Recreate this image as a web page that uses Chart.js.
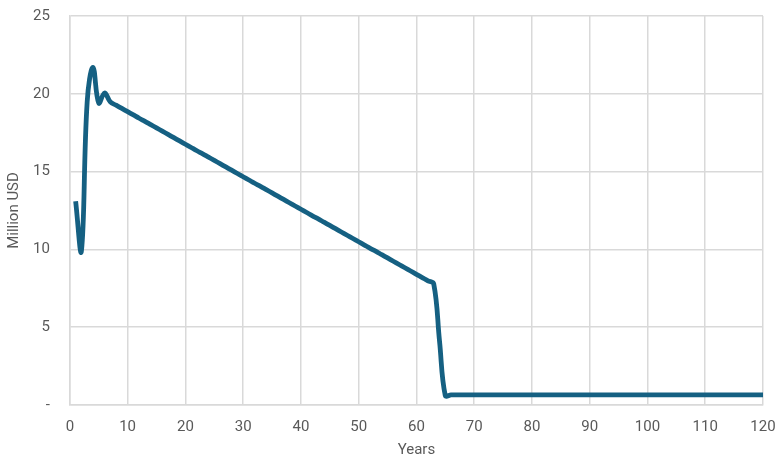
<!DOCTYPE html>
<html>
<head>
<meta charset="utf-8">
<script src="https://cdn.jsdelivr.net/npm/chart.js@4"></script>
<style>
  html, body { margin: 0; padding: 0; background: #fff; }
  #wrap { width: 782px; height: 466px; position: relative; }
</style>
</head>
<body>
<div id="wrap"><canvas id="chart"></canvas></div>
<script>
// years on the x axis
const years = [
  1, 2, 3, 4, 5, 6, 7, 8, 9, 10,
  11, 12, 13, 14, 15, 16, 17, 18, 19, 20,
  21, 22, 23, 24, 25, 26, 27, 28, 29, 30,
  31, 32, 33, 34, 35, 36, 37, 38, 39, 40,
  41, 42, 43, 44, 45, 46, 47, 48, 49, 50,
  51, 52, 53, 54, 55, 56, 57, 58, 59, 60,
  61, 62, 63, 64, 65, 66, 67, 68, 69, 70,
  71, 72, 73, 74, 75, 76, 77, 78, 79, 80,
  81, 82, 83, 84, 85, 86, 87, 88, 89, 90,
  91, 92, 93, 94, 95, 96, 97, 98, 99, 100,
  101, 102, 103, 104, 105, 106, 107, 108, 109, 110,
  111, 112, 113, 114, 115, 116, 117, 118, 119, 120
];

// million USD per year
const values = [
  13.1, 9.9, 19.5, 21.7, 19.4, 20.05, 19.48, 19.27, 19.06, 18.85,
  18.64, 18.43, 18.23, 18.02, 17.81, 17.60, 17.39, 17.18, 16.97, 16.76,
  16.55, 16.34, 16.14, 15.93, 15.72, 15.51, 15.30, 15.09, 14.88, 14.67,
  14.46, 14.25, 14.05, 13.84, 13.63, 13.42, 13.21, 13.00, 12.79, 12.58,
  12.37, 12.16, 11.96, 11.75, 11.54, 11.33, 11.12, 10.91, 10.70, 10.49,
  10.28, 10.07, 9.87, 9.66, 9.45, 9.24, 9.03, 8.82, 8.61, 8.40,
  8.19, 7.98, 7.78, 4.1, 0.6, 0.65, 0.65, 0.65, 0.65, 0.65,
  0.65, 0.65, 0.65, 0.65, 0.65, 0.65, 0.65, 0.65, 0.65, 0.65,
  0.65, 0.65, 0.65, 0.65, 0.65, 0.65, 0.65, 0.65, 0.65, 0.65,
  0.65, 0.65, 0.65, 0.65, 0.65, 0.65, 0.65, 0.65, 0.65, 0.65,
  0.65, 0.65, 0.65, 0.65, 0.65, 0.65, 0.65, 0.65, 0.65, 0.65,
  0.65, 0.65, 0.65, 0.65, 0.65, 0.65, 0.65, 0.65, 0.65, 0.65
];

const textColor = '#595959';
const gridColor = '#d9d9d9';
const font = { family: 'Roboto, "Noto Sans", sans-serif', size: 15 };

const points = years.map((y, i) => ({ x: y, y: values[i] }));

new Chart(document.getElementById('chart'), {
  type: 'line',
  data: {
    datasets: [{
      label: 'Million USD',
      data: points,
      borderColor: '#156082',
      borderWidth: 4.8,
      pointRadius: 0,
      tension: 0.4,
      fill: false
    }]
  },
  options: {
    responsive: true,
    maintainAspectRatio: false,
    animation: false,
    layout: { padding: { top: 16, right: 19, bottom: 5, left: 5 } },
    plugins: {
      legend: { display: false },
      tooltip: { enabled: false }
    },
    scales: {
      x: {
        type: 'linear',
        min: 0,
        max: 120,
        // tick marks are invisible, they only push the labels away
        ticks: { stepSize: 10, color: textColor, font: font, padding: 2, maxRotation: 0 },
        grid: { color: gridColor, drawTicks: true, tickLength: 11, tickColor: 'transparent', lineWidth: 1.5 },
        border: { color: gridColor, width: 1.5 },
        title: { display: true, text: 'Years', color: textColor, font: font, padding: { top: 3, bottom: 2 } }
      },
      y: {
        min: 0,
        max: 25,
        ticks: {
          stepSize: 5,
          color: textColor,
          font: font,
          padding: 2,
          callback: v => v === 0 ? '-' : v
        },
        grid: { color: gridColor, drawTicks: true, tickLength: 18, tickColor: 'transparent', lineWidth: 1.5 },
        border: { color: gridColor, width: 1.5 },
        title: { display: true, text: 'Million USD', color: textColor, font: font, padding: { top: 0, bottom: 8 } }
      }
    }
  }
});
</script>
</body>
</html>
